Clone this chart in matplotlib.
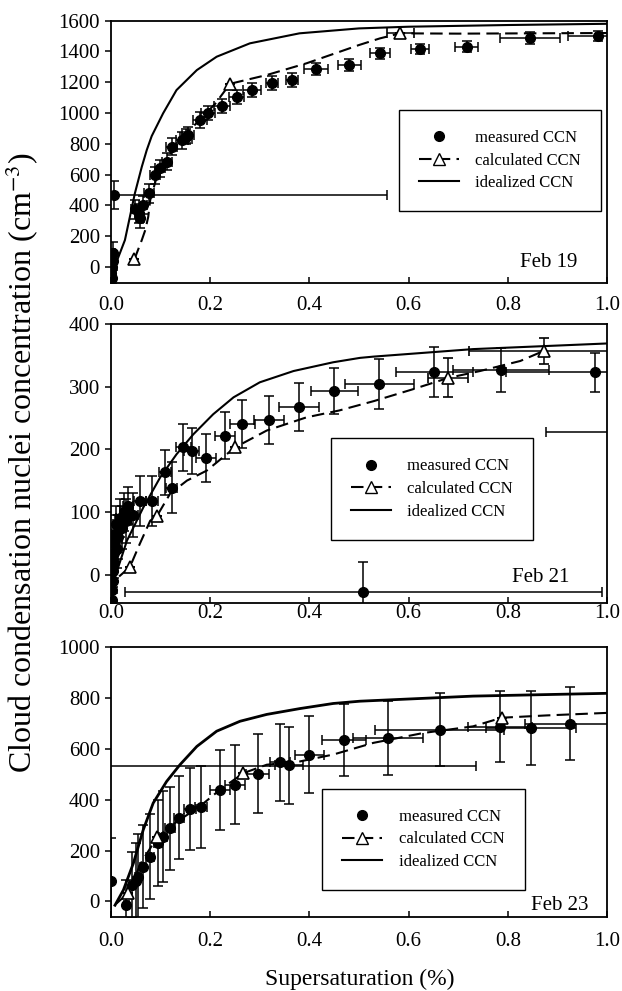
import matplotlib
matplotlib.use("Agg")
import matplotlib.pyplot as plt
import numpy as np

plt.rcParams['font.family'] = ['Liberation Serif', 'DejaVu Serif']
plt.rcParams['mathtext.fontset'] = 'stix'

# ---------------- Feb 19 ----------------
f19_meas_x = [0.000, 0.002, 0.003, 0.004, 0.001, 0.006, 0.048, 0.057, 0.058, 0.065, 0.077, 0.089, 0.098,
              0.112, 0.122, 0.143, 0.151, 0.156, 0.180, 0.196, 0.223, 0.253, 0.284, 0.325, 0.364,
              0.413, 0.480, 0.542, 0.623, 0.717, 0.845, 0.982]
f19_meas_y = [-40, 0, 40, 90, -70, 466, 373, 347, 316, 401, 477, 596, 640,
              683, 780, 824, 846, 857, 954, 1002, 1045, 1106, 1149, 1193, 1214,
              1284, 1310, 1388, 1416, 1431, 1486, 1500]
f19_meas_xerr = [0.005, 0.005, 0.005, 0.005, 0.004, 0.55, 0.008, 0.008, 0.008, 0.008, 0.01, 0.01, 0.01,
                 0.01, 0.012, 0.012, 0.012, 0.012, 0.014, 0.014, 0.016, 0.016, 0.018, 0.012, 0.012,
                 0.024, 0.023, 0.02, 0.018, 0.023, 0.06, 0.06]
f19_meas_yerr = [40, 50, 60, 70, 40, 92, 60, 60, 65, 60, 60, 55, 55,
                 55, 55, 55, 50, 50, 50, 45, 45, 45, 45, 45, 45,
                 40, 40, 35, 35, 35, 40, 35]
f19_calc_x = [0.047, 0.062, 0.069, 0.075, 0.079, 0.09, 0.10, 0.12, 0.15, 0.18, 0.21, 0.24, 0.314, 0.394,
              0.50, 0.542, 0.583, 0.70, 0.85, 1.0]
f19_calc_y = [48, 174, 239, 325, 434, 560, 640, 740, 860, 960, 1060, 1190, 1247, 1323,
              1442, 1485, 1518, 1516, 1518, 1520]
f19_tri_x = [0.047, 0.24, 0.583]
f19_tri_y = [48, 1190, 1518]
f19_tri_xerr = [0.0, 0.0, 0.027]
f19_tri_yerr = [0, 0, 0]
f19_ideal_x = [0.0, 0.008, 0.015, 0.028, 0.038, 0.048, 0.062, 0.072, 0.082, 0.105, 0.132, 0.173, 0.213,
               0.28, 0.38, 0.5, 0.6, 0.8, 1.0]
f19_ideal_y = [-50, 10, 65, 174, 325, 477, 650, 759, 850, 998, 1149, 1279, 1366,
               1453, 1518, 1550, 1561, 1572, 1580]

# ---------------- Feb 21 ----------------
f21_meas_x = [0.001, 0.002, 0.003, 0.004, 0.005, 0.006, 0.007, 0.008, 0.010, 0.012, 0.015, 0.018, 0.022,
              0.026, 0.030, 0.035, 0.045, 0.058, 0.082, 0.109, 0.122, 0.146, 0.163, 0.192, 0.230,
              0.265, 0.319, 0.379, 0.450, 0.541, 0.652, 0.786, 0.976, 0.509, 1.10]
f21_meas_y = [-40, -25, -10, 5, 20, 35, 50, 65, 80, 40, 60, 90, 75,
              100, 85, 110, 95, 118, 118, 163, 139, 203, 197, 186, 222,
              240, 247, 268, 293, 304, 323, 327, 323, -28, 227]
f21_meas_xerr = [0.003, 0.003, 0.004, 0.004, 0.005, 0.005, 0.005, 0.006, 0.006, 0.006, 0.007, 0.008, 0.008,
                 0.008, 0.01, 0.01, 0.01, 0.012, 0.012, 0.012, 0.012, 0.015, 0.015, 0.02, 0.02,
                 0.025, 0.03, 0.041, 0.047, 0.07, 0.078, 0.097, 0.18, 0.48, 0.222]
f21_meas_yerr = [15, 20, 20, 25, 25, 25, 30, 30, 30, 30, 35, 30, 35,
                 30, 35, 30, 35, 40, 40, 36, 40, 37, 37, 38, 37,
                 38, 38, 38, 37, 40, 40, 35, 31, 48, 30]
f21_calc_x = [0.0, 0.015, 0.038, 0.058, 0.079, 0.093, 0.119, 0.153, 0.193, 0.25, 0.314, 0.394, 0.46,
              0.53, 0.609, 0.68, 0.744, 0.825, 0.872]
f21_calc_y = [-30, -4, 12, 49, 86, 94, 129, 150, 166, 203, 230, 251, 262,
              277, 296, 314, 325, 341, 357]
f21_tri_x = [0.038, 0.093, 0.25, 0.68, 0.872]
f21_tri_y = [12, 94, 203, 314, 357]
f21_tri_xerr = [0.0, 0.0, 0.0, 0.04, 0.15]
f21_tri_yerr = [0, 0, 0, 31, 21]
f21_ideal_x = [0.0, 0.004, 0.032, 0.065, 0.099, 0.132, 0.166, 0.206, 0.247, 0.30, 0.368, 0.448, 0.502,
               0.529, 0.73, 1.0]
f21_ideal_y = [-45, -14, 54, 107, 155, 192, 224, 256, 283, 307, 325, 339, 346,
               348, 360, 369]

# ---------------- Feb 23 ----------------
f23_meas_x = [0.0, -0.02, 0.031, 0.042, 0.050, 0.055, 0.065, 0.079, 0.095, 0.105, 0.119, 0.137, 0.159,
              0.182, 0.220, 0.250, 0.296, 0.341, 0.359, 0.400, 0.470, 0.558, 0.663, 0.784, 0.847, 0.925]
f23_meas_y = [80, 532, -15, 64, 80, 97, 137, 176, 229, 255, 288, 330, 364,
              371, 440, 459, 503, 547, 536, 578, 634, 644, 676, 687, 683, 699]
f23_meas_xerr = [0.0, 0.755, 0.005, 0.006, 0.006, 0.006, 0.006, 0.008, 0.008, 0.008, 0.01, 0.01, 0.012,
                 0.012, 0.02, 0.02, 0.023, 0.02, 0.028, 0.03, 0.045, 0.07, 0.13, 0.065, 0.09, 0.09]
f23_meas_yerr = [170, 0, 100, 130, 150, 170, 164, 167, 170, 180, 164, 162, 163,
                 160, 157, 155, 155, 153, 152, 150, 142, 146, 145, 140, 145, 143]
f23_calc_x = [0.011, 0.034, 0.06, 0.093, 0.13, 0.179, 0.22, 0.267, 0.314, 0.381, 0.448, 0.529, 0.63,
              0.73, 0.788, 0.878, 1.0]
f23_calc_y = [-8, 32, 150, 253, 310, 374, 440, 505, 538, 551, 578, 624, 663,
              689, 723, 732, 742]
f23_tri_x = [0.034, 0.093, 0.267, 0.788]
f23_tri_y = [32, 253, 505, 723]
f23_tri_xerr = [0.0, 0.0, 0.0, 0.0]
f23_tri_yerr = [0, 0, 0, 0]
f23_ideal_x = [0.008, 0.025, 0.045, 0.065, 0.085, 0.112, 0.139, 0.173, 0.213, 0.26, 0.314, 0.381, 0.448,
               0.502, 0.73, 1.0]
f23_ideal_y = [-15, 45, 150, 282, 387, 472, 538, 610, 670, 709, 736, 759, 779,
               788, 808, 819]

x_ticks = [0.0, 0.2, 0.4, 0.6, 0.8, 1.0]
x_ticklabels = ["0.0", "0.2", "0.4", "0.6", "0.8", "1.0"]

panels = [
    dict(label="Feb 19", meas=(f19_meas_x, f19_meas_y, f19_meas_xerr, f19_meas_yerr),
         calc=(f19_calc_x, f19_calc_y), tri=(f19_tri_x, f19_tri_y, f19_tri_xerr, f19_tri_yerr),
         ideal=(f19_ideal_x, f19_ideal_y), ylim=(-105, 1600), yticks=list(range(0, 1601, 200)),
         rect=[0.1785, 0.7144, 0.7974, 0.2647], leg=(0.784, 0.467), lab=(0.94, 0.08),
         xpad=9, ilw=1.5),
    dict(label="Feb 21", meas=(f21_meas_x, f21_meas_y, f21_meas_xerr, f21_meas_yerr),
         calc=(f21_calc_x, f21_calc_y), tri=(f21_tri_x, f21_tri_y, f21_tri_xerr, f21_tri_yerr),
         ideal=(f21_ideal_x, f21_ideal_y), ylim=(-45, 400), yticks=list(range(0, 401, 100)),
         rect=[0.1785, 0.3918, 0.7974, 0.2812], leg=(0.647, 0.408), lab=(0.925, 0.092),
         xpad=1, ilw=1.5),
    dict(label="Feb 23", meas=(f23_meas_x, f23_meas_y, f23_meas_xerr, f23_meas_yerr),
         calc=(f23_calc_x, f23_calc_y), tri=(f23_tri_x, f23_tri_y, f23_tri_xerr, f23_tri_yerr),
         ideal=(f23_ideal_x, f23_ideal_y), ylim=(-60, 1000), yticks=list(range(0, 1001, 200)),
         rect=[0.1785, 0.075, 0.7974, 0.2718], leg=(0.63, 0.287), lab=(0.962, 0.04),
         xpad=11, ilw=2.0),
]

fig = plt.figure(figsize=(6.22, 9.91), dpi=100)

for p in panels:
    ax = fig.add_axes(p["rect"])
    mx, my, mxe, mye = p["meas"]
    ax.errorbar(mx, my, xerr=mxe, yerr=mye, fmt='o', color='black', ms=7,
                elinewidth=1.1, capsize=3.5, capthick=1.1, zorder=3)
    cx, cy = p["calc"]
    ax.plot(cx, cy, color='black', lw=1.5, dashes=(6, 3), zorder=2)
    tx, ty, txe, tye = p["tri"]
    ax.errorbar(tx, ty, xerr=txe, yerr=tye, fmt='^', color='black', mfc='white', mec='black',
                ms=8, mew=1.2, elinewidth=1.1, capsize=3.5, capthick=1.1, zorder=4)
    ix, iy = p["ideal"]
    ax.plot(ix, iy, color='black', lw=p["ilw"], zorder=2)

    ax.set_xlim(0, 1.0)
    ax.set_ylim(*p["ylim"])
    ax.set_xticks(x_ticks)
    ax.set_xticklabels(x_ticklabels)
    ax.set_yticks(p["yticks"])
    ax.tick_params(axis='x', direction='in', length=4, width=1.1, labelsize=15, pad=p["xpad"])
    ax.tick_params(axis='y', direction='out', length=4, width=1.1, labelsize=15, pad=4)
    for s in ax.spines.values():
        s.set_linewidth(1.3)

    h1 = plt.Line2D([], [], marker='o', color='black', ls='none', ms=7)
    h2 = plt.Line2D([], [], marker='^', color='black', mfc='white', ms=8, lw=1.5, dashes=(6, 3))
    h3 = plt.Line2D([], [], color='black', lw=1.5)
    leg = ax.legend([h1, h2, h3], ["measured CCN", "calculated CCN", "idealized CCN"],
                    loc='center', bbox_to_anchor=p["leg"], fontsize=12, frameon=True,
                    fancybox=False, edgecolor='black', framealpha=1, borderpad=1.2,
                    labelspacing=0.4, handlelength=2.4, handletextpad=1.0)
    leg.get_frame().set_linewidth(1.0)
    ax.text(p["lab"][0], p["lab"][1], p["label"], transform=ax.transAxes, ha='right',
            va='center', fontsize=15)

fig.text(0.036, 0.533, "Cloud condensation nuclei concentration (cm$^{-3}$)", rotation=90,
         ha='center', va='center', fontsize=23)
fig.text(0.579, 0.012, "Supersaturation (%)", ha='center', va='center', fontsize=17)

fig.savefig("out.png", dpi=100)
